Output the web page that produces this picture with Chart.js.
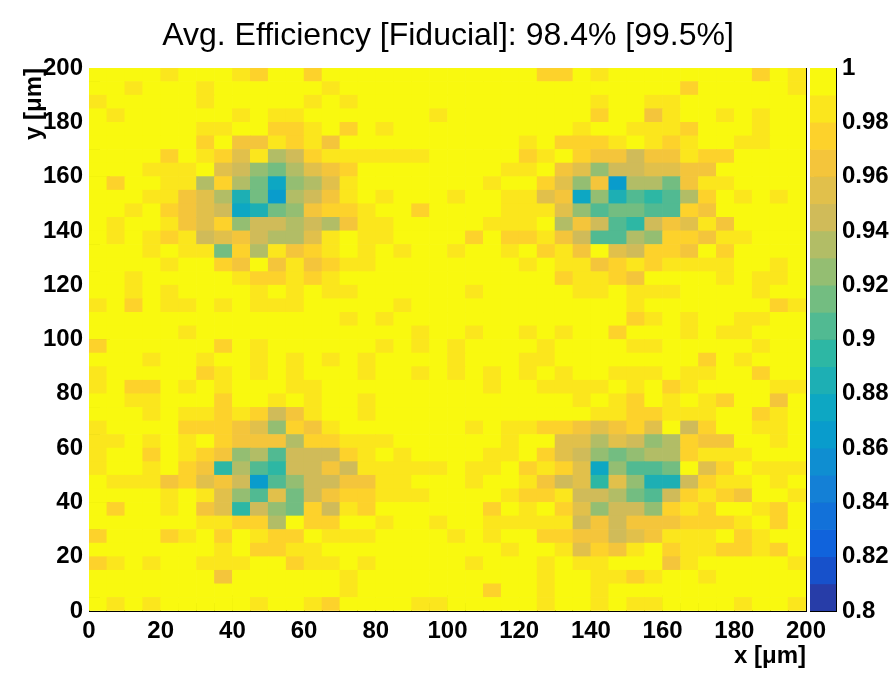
<!DOCTYPE html>
<html>
<head>
<meta charset="utf-8">
<script src="https://cdn.jsdelivr.net/npm/chart.js@4.4.1/dist/chart.umd.min.js"></script>
<style>
  html, body { margin: 0; padding: 0; background: #fff; overflow: hidden; }
  #wrap { position: relative; width: 896px; height: 681px; }
  #wrap canvas { position: absolute; left: 0; top: 0; }
</style>
</head>
<body>
<div id="wrap">
  <canvas id="mapChart" width="896" height="681"></canvas>
  <canvas id="paletteChart" width="896" height="681"></canvas>
</div>
<script>
const chartTitle = 'Avg. Efficiency [Fiducial]: 98.4% [99.5%]';
const xTitle = 'x [\u03bcm]';
const yTitle = 'y [\u03bcm]';
const xRange = [0, 200];
const yRange = [0, 200];
const binSize = 5;
const zEdges = [0.80, 0.81, 0.82, 0.83, 0.84, 0.85, 0.86, 0.87, 0.88, 0.89, 0.90,
                0.91, 0.92, 0.93, 0.94, 0.95, 0.96, 0.97, 0.98, 0.99, 1.00];

// efficiency per 5 um bin, rows from top (y 195-200) to bottom (y 0-5)
// 9 = 0.99..1.00, 8 = 0.98..0.99, ... 0 = 0.90..0.91, a = 0.89, b = 0.88, c = 0.87, d = 0.86
const levelCode = '9876543210abcd';
const effRows = [
  '99998999879979999999' + '99999779899999999798',
  '99899989999998999999' + '99999999999997999998',
  '89999989999989899999' + '99999999899889999999',
  '98999999898899999998' + '99999999799689989899',
  '99999988997789798999' + '99999998998887999899',
  '99999979668786999999' + '99998977789878998899',
  '99997987583478888889' + '99997897664668779999',
  '99988895421356799999' + '99988965244556699999',
  '9799883731c235899999' + '998997526d3316889999',
  '99988653b1d346898999' + '8998856c2b0a03798989',
  '99897654cb1267789979' + '99988852011007699999',
  '98998657244343688999' + '9988893640a465869999',
  '98987845643358988999' + '97977864003277688999',
  '99989881738678989899' + '89989786954776979999',
  '99998997696867889999' + '99998988678788889989',
  '99899999877878999999' + '99999978876999989889',
  '99898999989898899999' + '98999998898889999899',
  '89798898988899999899' + '99999999998999999978',
  '99999999999999898999' + '99999999997898998899',
  '99999899999999999989' + '98998989979998988999',
  '79999997989999998989' + '89999899998899999899',
  '99989989989898989999' + '89998899999999798999',
  '89999978989899989989' + '89898989988898899799',
  '89779898999889999999' + '99899888898978999988',
  '99889997998989989999' + '99999998987989879969',
  '99989887874689989999' + '99999999887788899789',
  '89999777652768999999' + '98988776567594799889',
  '88989897666377888999' + '99989955354237669989',
  '89979876230444789899' + '99889754212337888999',
  '8998976a30a446488888' + '98897875c20019579888',
  '988867564d0244668899' + '98998645a52bb4788989',
  '99998985205146778889' + '99987784431047876998',
  '97998965a42174879999' + '99798975244278799879',
  '99999988773977998998' + '99888884646667778979',
  '79997897987798889999' + '89899776645688897899',
  '99999998977889999999' + '99989985768978877879',
  '78989988899788989999' + '98999898899968999998',
  '99999996999999899999' + '99999899887899899999',
  '99999999999999899999' + '99799899899999999999',
  '98989999989987999988' + '99999899898899998998'
];

// ROOT kBird palette stops
const birdStops = [0.0, 0.125, 0.25, 0.375, 0.5, 0.625, 0.75, 0.875, 1.0];
const birdRed   = [0.2082, 0.0592, 0.0780, 0.0232, 0.1802, 0.5301, 0.8186, 0.9956, 0.9764];
const birdGreen = [0.1664, 0.3599, 0.5041, 0.6419, 0.7178, 0.7492, 0.7328, 0.7862, 0.9832];
const birdBlue  = [0.5293, 0.8684, 0.8385, 0.7914, 0.6425, 0.4662, 0.3499, 0.1968, 0.0539];

function paletteColor(v) {
    const nLev = zEdges.length - 1;
    const zMin = zEdges[0], zMax = zEdges[nLev];
    let lev = Math.floor((v - zMin) / (zMax - zMin) * nLev + 1e-9);
    lev = Math.max(0, Math.min(nLev - 1, lev));
    const p = Math.floor((lev + 0.99) * 255 / nLev) / 255;
    let k = 0;
    while (k < birdStops.length - 2 && p > birdStops[k + 1]) k++;
    const t = (p - birdStops[k]) / (birdStops[k + 1] - birdStops[k]);
    const mix = arr => Math.round(255 * (arr[k] + (arr[k + 1] - arr[k]) * t));
    return `rgb(${mix(birdRed)},${mix(birdGreen)},${mix(birdBlue)})`;
}

// build the cell list from the rows
const cells = [];
effRows.forEach((row, r) => {
    for (let c = 0; c < row.length; c++) {
        const y0 = yRange[1] - (r + 1) * binSize;
        cells.push({
            x: xRange[0] + (c + 0.5) * binSize,
            y: [y0, y0 + binSize],
            v: 0.995 - levelCode.indexOf(row[c]) * 0.01
        });
    }
});

Chart.defaults.font.family = "'Liberation Sans', Arial, Helvetica, sans-serif";
Chart.defaults.color = '#000';

const boldFont = { size: 24, weight: 'bold' };
const blackBorder = { display: true, color: '#000', width: 1 };

// 1. efficiency map
new Chart(document.getElementById('mapChart'), {
    type: 'bar',
    data: {
        datasets: [{
            data: cells,
            backgroundColor: ctx => paletteColor(ctx.raw.v),
            borderWidth: 0,
            barPercentage: 1,
            categoryPercentage: 1,
            grouped: false,
            xAxisID: 'x',
            yAxisID: 'y'
        }]
    },
    options: {
        responsive: false,
        animation: false,
        events: [],
        layout: { padding: 0 },
        plugins: {
            legend: { display: false },
            tooltip: { enabled: false },
            title: {
                display: true,
                text: chartTitle,
                color: '#000',
                font: { size: 32, weight: 'normal' },
                padding: { top: 17, bottom: 12.6 }
            }
        },
        scales: {
            x: {
                type: 'linear', position: 'bottom',
                min: xRange[0], max: xRange[1], offset: false,
                ticks: { stepSize: 20, font: boldFont, color: '#000', padding: 22, maxRotation: 0, autoSkip: false },
                grid: { drawOnChartArea: false, offset: false, tickLength: -16, tickColor: '#000' },
                border: blackBorder,
                title: { display: true, text: xTitle, align: 'end', color: '#000', font: boldFont, padding: { top: 0, bottom: 10 } },
                afterFit: s => { s.height = 70; }
            },
            xMinor: {
                type: 'linear', position: 'bottom', weight: -1,
                min: xRange[0], max: xRange[1], offset: false,
                ticks: { display: false, stepSize: 5, maxTicksLimit: 100 },
                grid: { drawOnChartArea: false, offset: false, tickLength: -8, tickColor: '#000' },
                border: { display: false },
                afterFit: s => { s.height = 0; }
            },
            y: {
                type: 'linear', position: 'left',
                min: yRange[0], max: yRange[1],
                ticks: { stepSize: 20, font: boldFont, color: '#000', padding: 27 },
                grid: { drawOnChartArea: false, tickLength: -21, tickColor: '#000' },
                border: blackBorder,
                title: { display: true, text: yTitle, align: 'end', color: '#000', font: boldFont, padding: { top: 20, bottom: 0 } },
                afterFit: s => { s.width = 89; }
            },
            yMinor: {
                type: 'linear', position: 'left', weight: -1,
                min: yRange[0], max: yRange[1],
                ticks: { display: false, stepSize: 5, maxTicksLimit: 100 },
                grid: { drawOnChartArea: false, tickLength: -11, tickColor: '#000' },
                border: { display: false },
                afterFit: s => { s.width = 0; }
            },
            yRight: {
                type: 'linear', position: 'right',
                min: yRange[0], max: yRange[1],
                ticks: { display: false },
                grid: { display: false },
                border: blackBorder,
                afterFit: s => { s.width = 90; }
            }
        }
    }
});

// 2. colour palette axis
const zBars = [];
const zColors = [];
for (let i = 0; i < zEdges.length - 1; i++) {
    zBars.push({ x: 'z', y: [zEdges[i], zEdges[i + 1]] });
    zColors.push(paletteColor((zEdges[i] + zEdges[i + 1]) / 2));
}

new Chart(document.getElementById('paletteChart'), {
    type: 'bar',
    data: {
        labels: ['z'],
        datasets: [{
            data: zBars,
            backgroundColor: zColors,
            borderWidth: 0,
            barPercentage: 1,
            categoryPercentage: 1,
            grouped: false
        }]
    },
    options: {
        responsive: false,
        animation: false,
        events: [],
        layout: { padding: { left: 810, right: 0, top: 68, bottom: 0 } },
        plugins: { legend: { display: false }, tooltip: { enabled: false } },
        scales: {
            x: {
                type: 'category', position: 'bottom',
                ticks: { display: false },
                grid: { display: false },
                border: blackBorder,
                afterFit: s => { s.height = 70; }
            },
            xTop: {
                type: 'category', position: 'top',
                ticks: { display: false },
                grid: { display: false },
                border: blackBorder,
                afterFit: s => { s.height = 0; }
            },
            y: {
                type: 'linear', position: 'right',
                min: zEdges[0], max: zEdges[zEdges.length - 1],
                ticks: {
                    stepSize: 0.02, font: boldFont, color: '#000', padding: 28,
                    callback: v => String(+v.toFixed(2))
                },
                grid: { drawOnChartArea: false, tickLength: -22, tickColor: '#000' },
                border: blackBorder,
                afterFit: s => { s.width = 60; }
            },
            yLeft: {
                type: 'linear', position: 'left',
                min: zEdges[0], max: zEdges[zEdges.length - 1],
                ticks: { display: false },
                grid: { display: false },
                border: blackBorder,
                afterFit: s => { s.width = 0; }
            }
        }
    }
});
</script>
</body>
</html>
